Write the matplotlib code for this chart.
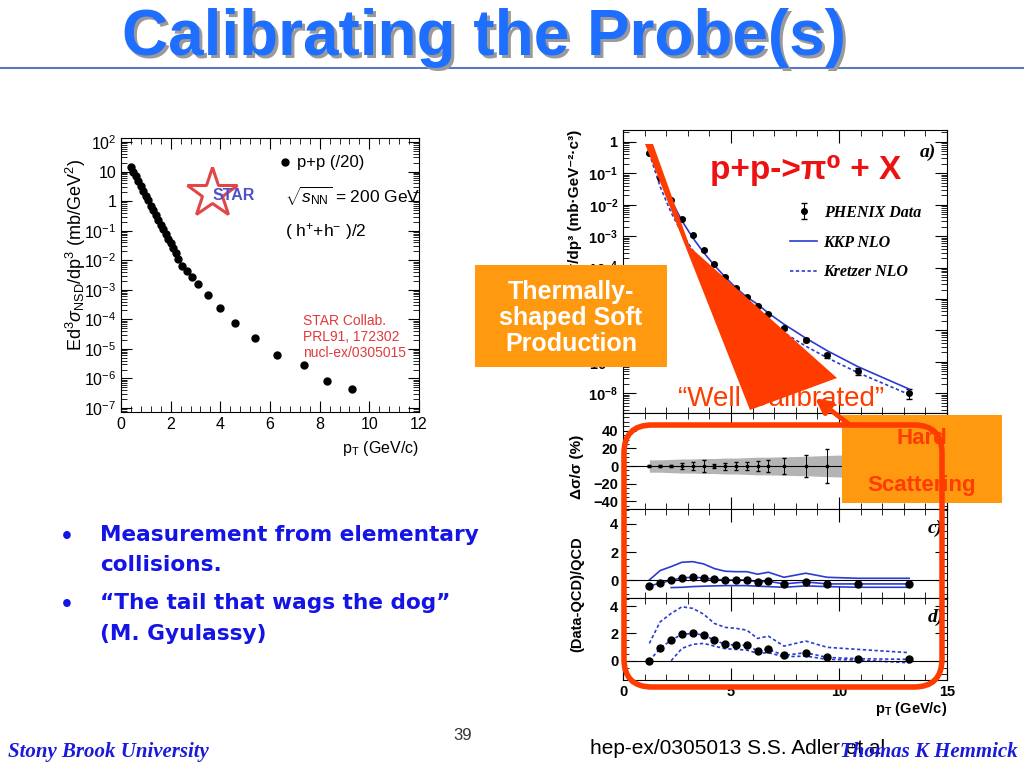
import matplotlib
matplotlib.use('Agg')
import matplotlib.pyplot as plt
import numpy as np
from matplotlib.patches import Rectangle, Polygon, FancyBboxPatch
from matplotlib.ticker import FixedLocator, FixedFormatter, LogLocator, NullFormatter, MultipleLocator

plt.rcParams['font.family'] = ['Liberation Sans', 'DejaVu Sans']
plt.rcParams['mathtext.fontset'] = 'custom'
plt.rcParams['mathtext.rm'] = 'Liberation Sans'
plt.rcParams['mathtext.it'] = 'Liberation Sans:italic'
plt.rcParams['mathtext.bf'] = 'Liberation Sans:bold'

# STAR charged hadrons, p+p (/20)
star_pt = [0.4, 0.5, 0.6, 0.7, 0.8, 0.9, 1.0, 1.1, 1.2, 1.3, 1.4, 1.5, 1.6, 1.7, 1.8, 1.9,
           2.0, 2.1, 2.2, 2.3, 2.45, 2.65, 2.85, 3.1, 3.5, 4.0, 4.6, 5.4, 6.3, 7.35, 8.3, 9.3]
star_yield = [14.5, 9.5, 6.8, 4.8, 3.3, 2.2, 1.5, 1.05, 0.71, 0.49, 0.34, 0.23, 0.16, 0.11,
              0.078, 0.054, 0.037, 0.026, 0.018, 0.011, 6.3e-3, 4.2e-3, 2.8e-3, 1.55e-3,
              6.8e-4, 2.45e-4, 7.4e-5, 2.3e-5, 6.3e-6, 2.75e-6, 8.5e-7, 4.5e-7]
star_ticks = [1e-7, 1e-6, 1e-5, 1e-4, 1e-3, 1e-2, 1e-1, 1, 10, 100]
star_ticklabels = ['$10^{-7}$', '$10^{-6}$', '$10^{-5}$', '$10^{-4}$', '$10^{-3}$',
                   '$10^{-2}$', '$10^{-1}$', '1', '10', '$10^{2}$']

# PHENIX pi0
phx_pt = [1.22, 1.72, 2.23, 2.73, 3.23, 3.73, 4.23, 4.73, 5.23, 5.73, 6.23, 6.73,
          7.45, 8.46, 9.46, 10.87, 13.25]
phx_yield = [0.43, 0.071, 0.0141, 3.6e-3, 1.07e-3, 3.55e-4, 1.26e-4, 5.1e-5, 2.3e-5,
             1.17e-5, 6.0e-6, 3.3e-6, 1.17e-6, 5.0e-7, 1.66e-7, 5.2e-8, 1.0e-8]
# relative errors (%) and systematic band (%)
b_center = [0] * 17
b_err = [1, 1, 1.5, 3, 5, 7, 2, 4, 5, 5, 6, 7, 9, 12, 19, 25, 35]
b_syst = [7, 7, 7.5, 8, 8, 8.5, 8.5, 9, 9, 9.5, 10, 10, 10.5, 11, 12, 13, 14]
# (Data-QCD)/QCD, KKP
c_data = [-0.40, -0.21, 0.00, 0.17, 0.21, 0.17, 0.07, 0.02, 0.02, 0.02, -0.12, -0.07,
          -0.26, -0.12, -0.26, -0.26, -0.26]
c_upper = [0.02, 0.69, 0.97, 1.28, 1.32, 1.16, 0.83, 0.64, 0.61, 0.61, 0.43, 0.57,
           0.21, 0.50, 0.21, 0.14, 0.14]
c_lower = [-0.52, -0.50, -0.45, -0.42, -0.40, -0.38, -0.38, -0.38, -0.42, -0.45,
           -0.50, -0.40, -0.45, -0.50, -0.50]
# (Data-QCD)/QCD, Kretzer
d_data = [0.0, 0.90, 1.51, 1.93, 2.00, 1.88, 1.51, 1.20, 1.15, 1.12, 0.73, 0.83,
          0.39, 0.59, 0.24, 0.15, 0.10]
d_upper = [1.27, 2.85, 3.46, 3.95, 3.83, 3.41, 2.73, 2.44, 2.37, 2.24, 1.63, 1.80,
           1.07, 1.44, 0.98, 0.83, 0.59]
d_lower = [0.0, 0.90, 1.20, 1.27, 1.07, 0.88, 0.83, 0.78, 0.54, 0.59, 0.29, 0.34,
           0.10, 0.05, -0.15]

phx_yield_a = np.array(phx_yield)
kkp = phx_yield_a / (1 + np.array(c_data))
kretzer = phx_yield_a / (1 + np.array(d_data))
phx_yerr = phx_yield_a * np.array(b_err) / 100

W, H = 1024, 768
fig = plt.figure(figsize=(10.24, 7.68), dpi=100)


def box(x0, y0, x1, y1):
    return [x0 / W, 1 - y1 / H, (x1 - x0) / W, (y1 - y0) / H]


BLUE = '#2a3bd0'
ORANGE = '#ff9a10'
RED = '#ff3c00'

ov = fig.add_axes([0, 0, 1, 1], zorder=10)
ov.set_xlim(0, W)
ov.set_ylim(H, 0)
ov.axis('off')

# ---- left plot (STAR)
axL = fig.add_axes(box(121, 138, 419, 412))
axL.set_yscale('log')
axL.plot(star_pt, star_yield, 'o', color='black', ms=5, label='p+p (/20)')
axL.set_xlim(0, 12)
axL.set_ylim(10 ** -7.135, 10 ** 2.135)
axL.yaxis.set_major_locator(FixedLocator(star_ticks))
axL.yaxis.set_major_formatter(FixedFormatter(star_ticklabels))
axL.yaxis.set_minor_locator(LogLocator(subs=np.arange(2, 10), numticks=20))
axL.yaxis.set_minor_formatter(NullFormatter())
axL.xaxis.set_major_locator(MultipleLocator(2))
axL.xaxis.set_minor_locator(MultipleLocator(0.4))
axL.tick_params(direction='in', which='both', top=True, right=True, labelsize=11.5)
axL.tick_params(which='major', length=8)
axL.tick_params(which='minor', length=4)
axL.set_ylabel(r'Ed$^3\sigma_{\rm NSD}$/dp$^3$ (mb/GeV$^2$)', fontsize=13)
axL.yaxis.set_label_coords(-0.112, 0.573)
axL.set_xlabel(r'p$_{\rm T}$ (GeV/c)', fontsize=11.5, loc='right')
axL.xaxis.set_label_coords(1.0, -0.1)
axL.legend(loc='center left', bbox_to_anchor=(277, 163), bbox_transform=ov.transData,
           frameon=False, handlelength=1.0, handletextpad=0.2, borderpad=0,
           borderaxespad=0, fontsize=12)

ov.text(285, 196, r'$\sqrt{s_{\rm NN}}$ = 200 GeV', fontsize=12.5, va='center', zorder=2)
ov.text(285, 232, r'( h$^{+}$+h$^{-}$ )/2', fontsize=12.5, va='center', zorder=2)
ov.plot(212, 193, marker='*', ms=38, mfc='none', mec='#e04848', mew=2.2, zorder=2)
ov.text(234, 196, 'STAR', color='#5050c8', weight='bold', fontsize=11.5,
        ha='center', va='center', zorder=3)
ov.text(303, 314, 'STAR Collab.\nPRL91, 172302\nnucl-ex/0305015', color='#e03a3a',
        fontsize=10, va='top', linespacing=1.2, zorder=2)

# ---- right plots (PHENIX)
axA = fig.add_axes(box(623, 130, 947, 413))
axB = fig.add_axes(box(623, 413, 947, 509), sharex=axA)
axC = fig.add_axes(box(623, 509, 947, 598), sharex=axA)
axD = fig.add_axes(box(623, 598, 947, 680), sharex=axA)

axA.set_yscale('log')
eb = axA.errorbar(phx_pt, phx_yield, yerr=phx_yerr, fmt='o', color='black', ms=4,
                  capsize=2, elinewidth=0.8, label='PHENIX Data')
l1, = axA.plot(phx_pt, kkp, '-', color=BLUE, lw=1.2, label='KKP NLO')
l2, = axA.plot(phx_pt, kretzer, color=BLUE, lw=1.2, ls=(0, (2, 1.5)), label='Kretzer NLO')
axA.set_ylim(10 ** -8.63, 10 ** 0.38)
a_ticks = [1e-8, 1e-7, 1e-6, 1e-5, 1e-4, 1e-3, 1e-2, 1e-1, 1]
a_labels = [r'$\mathbf{10^{-8}}$', r'$\mathbf{10^{-7}}$', r'$\mathbf{10^{-6}}$',
            r'$\mathbf{10^{-5}}$', r'$\mathbf{10^{-4}}$', r'$\mathbf{10^{-3}}$',
            r'$\mathbf{10^{-2}}$', r'$\mathbf{10^{-1}}$', r'$\mathbf{1}$']
axA.yaxis.set_major_locator(FixedLocator(a_ticks))
axA.yaxis.set_major_formatter(FixedFormatter(a_labels))
axA.yaxis.set_minor_locator(LogLocator(subs=np.arange(2, 10), numticks=20))
axA.yaxis.set_minor_formatter(NullFormatter())
axA.legend(handles=[eb, l1, l2], loc='upper left', bbox_to_anchor=(790, 205),
           bbox_transform=ov.transData, frameon=False, handlelength=1.7,
           handletextpad=0.4, borderpad=0, borderaxespad=0, labelspacing=0.85,
           prop=dict(family='Liberation Serif', weight='bold', style='italic', size=11.5))

axB.fill_between(phx_pt, -np.array(b_syst), b_syst, color='#b4b4b4', lw=0)
axB.errorbar(phx_pt, b_center, yerr=b_err, fmt='s', ms=2, color='black',
             elinewidth=0.7, capsize=1.5)
axB.axhline(0, color='black', lw=0.8)
axB.set_ylim(-48.6, 60)
axB.yaxis.set_major_locator(FixedLocator([-40, -20, 0, 20, 40]))
axB.yaxis.set_minor_locator(MultipleLocator(5))

axC.plot(phx_pt, c_upper, '-', color=BLUE, lw=1.2)
axC.plot(phx_pt[2:], c_lower, '-', color=BLUE, lw=1.2)
axC.plot(phx_pt, c_data, '-', color=BLUE, lw=1.2)
axC.plot(phx_pt, c_data, 'o', color='black', ms=5)
axC.axhline(0, color='black', lw=0.8)
axC.set_ylim(-1.26, 5.06)

axD.plot(phx_pt, d_upper, color=BLUE, lw=1.2, ls=(0, (2, 1.5)))
axD.plot(phx_pt[2:], d_lower, color=BLUE, lw=1.2, ls=(0, (2, 1.5)))
axD.plot(phx_pt, d_data, color=BLUE, lw=1.2, ls=(0, (2, 1.5)))
axD.plot(phx_pt, d_data, 'o', color='black', ms=5)
axD.axhline(0, color='black', lw=0.8)
axD.set_ylim(-1.41, 4.59)

for ax in (axC, axD):
    ax.yaxis.set_major_locator(FixedLocator([0, 2, 4]))
    ax.yaxis.set_minor_locator(MultipleLocator(0.5))

for ax in (axA, axB, axC, axD):
    ax.set_xlim(0, 15)
    ax.xaxis.set_major_locator(MultipleLocator(5))
    ax.xaxis.set_minor_locator(MultipleLocator(1))
    ax.tick_params(direction='in', which='both', top=True, right=True, labelsize=10.5)
    ax.tick_params(which='major', length=9)
    ax.tick_params(which='minor', length=4.5)
    for lab in ax.get_yticklabels():
        lab.set_fontweight('bold')
    for sp in ax.spines.values():
        sp.set_linewidth(0.8)
for ax in (axA, axB, axC):
    ax.tick_params(labelbottom=False)
for lab in axD.get_xticklabels():
    lab.set_fontweight('bold')
axD.set_xlabel(r'$\mathbf{p_T}$ (GeV/c)', fontsize=10.5, weight='bold', loc='right')
axD.xaxis.set_label_coords(1.0, -0.25)

fam = ['Liberation Sans', 'DejaVu Sans']
ov.text(575, 130, 'Ed³σ/dp³ (mb·GeV⁻²·c³)', rotation=90, ha='center', va='top',
        weight='bold', fontsize=11, family=fam, zorder=1)
ov.text(577, 467, 'Δσ/σ (%)', rotation=90, ha='center', va='center',
        weight='bold', fontsize=11, family=fam, zorder=1)
ov.text(577, 594, '(Data-QCD)/QCD', rotation=90, ha='center', va='center',
        weight='bold', fontsize=10.5, family=fam, zorder=1)
serif = dict(family='Liberation Serif', weight='bold', style='italic', fontsize=14)
ov.text(920, 152, 'a)', va='center', zorder=1, **serif)
ov.text(928, 528, 'c)', va='center', zorder=1, **serif)
ov.text(928, 617, 'd)', va='center', zorder=1, **serif)
ov.text(806, 170, 'p+p->π⁰ + X', color='#ee1111', weight='bold', fontsize=24,
        ha='center', va='center', family=fam, zorder=2)

# ---- annotations
ov.add_patch(Rectangle((475, 265), 192, 102, color=ORANGE, lw=0, zorder=3))
ov.text(571, 318, 'Thermally-\nshaped Soft\nProduction', color='white', weight='bold',
        fontsize=18, ha='center', va='center', linespacing=1.08, zorder=4)
ov.text(781, 399, '“Well Calibrated”', color=RED, fontsize=20, ha='center',
        va='center', zorder=4)
ov.add_patch(Polygon([(645, 144), (653, 144), (690, 247), (837, 378), (750, 410)],
                     closed=True, color=RED, lw=0, zorder=5))
ov.add_patch(Rectangle((842, 415), 160, 88, color=ORANGE, lw=0, zorder=6))
ov.text(922, 438, 'Hard', color=RED, weight='bold', fontsize=16, ha='center',
        va='center', zorder=7)
ov.text(922, 485, 'Scattering', color=RED, weight='bold', fontsize=16, ha='center',
        va='center', zorder=7)
ov.add_patch(FancyBboxPatch((624, 425), 318, 262, boxstyle='round,pad=0,rounding_size=28',
                            fill=False, ec=RED, lw=4, zorder=8))
ov.annotate('', xy=(815, 398), xytext=(850, 425),
            arrowprops=dict(arrowstyle='-|>', color=RED, lw=3.5, mutation_scale=22,
                            shrinkA=0, shrinkB=0), zorder=9)

# ---- slide decoration
ov.plot([0, 1024], [68, 68], color='#5a78c0', lw=1.5, zorder=1)
title_kw = dict(fontsize=46, weight='bold', family='Liberation Sans', ha='center',
                va='center')
ov.text(487, 41, 'Calibrating the Probe(s)', color='#9a9a9a', zorder=11, **title_kw)
ov.text(484, 38, 'Calibrating the Probe(s)', color='#1e6eff', zorder=12, **title_kw)

bullet = dict(color='#1414e6', weight='bold', fontsize=15.6, va='center',
              family='DejaVu Sans', zorder=2)
ov.text(60, 537, '•', **bullet)
ov.text(100, 535, 'Measurement from elementary', **bullet)
ov.text(100, 565, 'collisions.', **bullet)
ov.text(60, 605, '•', **bullet)
ov.text(100, 603, '“The tail that wags the dog”', **bullet)
ov.text(100, 634, '(M. Gyulassy)', **bullet)

ov.text(463, 735, '39', fontsize=12, color='#333333', ha='center', va='center', zorder=2)
ov.text(590, 748, 'hep-ex/0305013 S.S. Adler et al.', fontsize=15, color='black',
        va='center', zorder=2)
ov.text(8, 752, 'Stony Brook University', family='Liberation Serif', weight='bold',
        style='italic', fontsize=15, color='#1a1ad8', va='center', zorder=3)
ov.text(1018, 752, 'Thomas K Hemmick', family='Liberation Serif', weight='bold',
        style='italic', fontsize=15, color='#1a1ad8', ha='right', va='center', zorder=3)

fig.savefig('out.png', dpi=100)
